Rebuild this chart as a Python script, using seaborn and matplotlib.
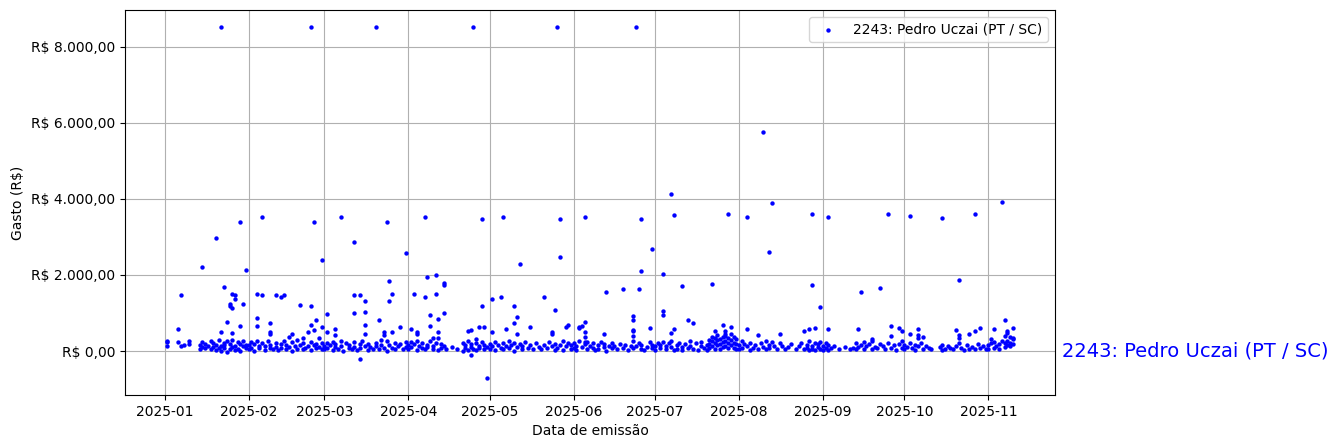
import matplotlib
matplotlib.use("Agg")
import matplotlib.pyplot as plt
import matplotlib.dates as mdates
import matplotlib.transforms as mtransforms
from matplotlib.ticker import FuncFormatter
import seaborn as sns
import pandas as pd

LABEL = "2243: Pedro Uczai (PT / SC)"
YEAR = 2025

# (day of month, value in R$) -- dense band near zero
jan_band = [(2,264),(2,229),(2,132),(6,229),(7,141),(8,167),(10,273),(10,185),(14,170),(14,60),(15,110),(15,230),(16,80),(16,190),(17,140),(18,40),(18,250),(19,100),(19,210),(20,30),(20,160),(21,70),(21,280),(22,120),(22,5),(23,200),(23,90),(23,150),(24,-20),(24,260),(25,50),(25,180),(26,110),(26,300),(27,20),(27,140),(28,230),(28,60),(29,190),(29,10),(30,120),(30,270),(31,80),(31,170)]
feb_band = [(1,150),(1,40),(2,230),(2,90),(3,10),(3,180),(4,260),(5,70),(5,140),(6,200),(7,30),(7,120),(8,250),(9,80),(9,170),(10,60),(11,220),(11,110),(12,20),(13,190),(13,90),(14,270),(15,50),(15,150),(16,100),(17,230),(17,10),(18,130),(19,60),(19,280),(20,170),(21,40),(21,210),(22,90),(23,120),(24,30),(24,240),(25,160),(26,70),(26,190),(27,110),(28,50),(28,220)]
mar_band = [(1,120),(1,40),(2,200),(2,80),(3,160),(4,20),(4,240),(5,100),(5,180),(6,60),(7,270),(7,130),(8,10),(9,210),(10,90),(10,160),(11,50),(12,230),(12,110),(13,30),(14,190),(14,70),(15,250),(16,140),(17,20),(17,180),(18,100),(19,60),(20,220),(20,130),(21,40),(22,300),(22,170),(23,80),(24,250),(24,10),(25,150),(26,90),(27,200),(27,40),(28,120),(29,180),(30,60),(31,230),(31,100)]
apr_band = [(1,150),(1,60),(2,230),(2,100),(3,180),(4,20),(4,260),(5,130),(6,80),(6,200),(7,40),(8,170),(8,110),(9,250),(10,60),(10,140),(11,200),(12,30),(13,180),(13,90),(14,120),(15,40),(17,100),(19,60),(21,220),(21,10),(22,150),(22,80),(23,250),(23,30),(24,180),(24,100),(25,60),(26,200),(26,20),(27,140),(27,90),(28,230),(29,50),(29,170),(30,110)]
may_band = [(1,180),(1,60),(2,120),(3,240),(3,20),(4,150),(5,90),(6,200),(6,40),(7,130),(8,270),(8,70),(9,160),(10,10),(10,220),(11,100),(12,180),(13,50),(13,130),(14,240),(15,80),(16,150),(17,60),(18,200),(19,110),(20,40),(21,170),(22,90),(23,230),(24,130),(25,20),(25,190),(26,70),(27,150),(28,250),(28,30),(29,120),(30,200),(31,60),(31,160)]
jun_band = [(1,200),(1,70),(2,140),(2,20),(3,250),(4,110),(5,180),(6,50),(6,230),(7,120),(8,90),(8,200),(9,30),(10,160),(10,60),(11,240),(12,100),(12,180),(13,10),(14,140),(15,210),(15,70),(16,120),(17,40),(18,180),(19,90),(20,160),(21,30),(22,120),(23,250),(23,80),(24,140),(25,200),(26,60),(26,170),(27,30),(28,110),(29,240),(30,90),(30,150)]
jul_band = [(1,120),(1,30),(2,200),(3,80),(3,160),(4,240),(5,50),(5,140),(6,200),(7,100),(7,260),(8,30),(9,170),(9,60),(10,220),(11,110),(11,20),(12,180),(13,90),(14,250),(14,140),(15,60),(16,200),(17,30),(18,120),(18,240),(19,80),(20,160),(20,20),(21,300),(21,190),(21,70),(22,380),(22,250),(22,120),(23,340),(23,200),(23,60),(24,420),(24,280),(24,150),(25,310),(25,180),(25,50),(26,360),(26,230),(26,100),(27,390),(27,260),(27,120),(28,330),(28,200),(28,70),(29,440),(29,290),(29,150),(30,370),(30,210),(30,90),(31,310),(31,180),(31,40)]
aug_band = [(1,150),(1,40),(2,260),(2,90),(3,180),(4,120),(5,30),(5,210),(6,80),(7,160),(8,60),(9,200),(10,110),(11,250),(11,40),(12,170),(12,90),(13,230),(14,130),(15,60),(16,200),(17,140),(18,50),(19,100),(20,180),(22,60),(23,130),(24,210),(25,40),(26,170),(26,90),(27,250),(27,20),(28,140),(28,60),(29,200),(29,30),(30,110),(30,180),(31,60),(31,230)]
sep_band = [(1,120),(1,30),(2,200),(2,70),(3,160),(3,20),(4,90),(5,140),(7,60),(9,110),(11,40),(12,80),(13,60),(13,200),(14,100),(15,150),(16,50),(16,230),(17,120),(18,180),(19,40),(19,260),(20,100),(21,70),(22,190),(23,130),(24,50),(25,220),(26,90),(27,150),(28,30),(29,180),(30,70),(30,250)]
oct_band = [(1,150),(1,40),(2,100),(3,220),(4,80),(5,160),(5,30),(6,120),(7,200),(8,60),(9,140),(10,90),(11,40),(14,110),(15,30),(15,170),(16,60),(17,140),(18,90),(19,40),(20,120),(21,200),(22,70),(23,30),(24,150),(25,60),(26,100),(27,40),(28,180),(29,80),(30,130),(31,50)]
nov_band = [(1,150),(1,60),(2,200),(3,90),(3,240),(4,130),(5,40),(5,180),(6,260),(7,100),(7,220),(8,150),(8,270),(9,200),(9,120),(10,330),(10,180)]

# larger expenses
jan_high = [(6,581),(7,1471),(15,2211),(20,2978),(22,8500),(22,493),(23,1683),(24,758),(25,1233),(25,1189),(26,1136),(26,467),(26,1498),(27,1462),(27,1374),(29,3400),(29,661),(30,1233),(31,2140)]
feb_high = [(4,1498),(4,872),(4,670),(6,3533),(6,1471),(9,731),(9,511),(9,449),(11,1471),(13,1427),(14,1480),(16,361),(17,449),(20,1207),(21,335),(23,511),(24,8500),(24,1180),(24,678),(25,3400),(25,546),(26,810),(28,2396),(28,634),(27,335)]
mar_high = [(2,969),(2,493),(5,581),(5,414),(7,3533),(12,2872),(12,1480),(12,995),(14,1462),(14,-211),(16,1313),(16,1022),(16,678),(16,440),(20,8500),(21,810),(23,511),(23,414),(24,3400),(25,1841),(25,1321),(26,493),(26,1498),(29,625),(31,2581)]
apr_high = [(2,573),(3,1498),(4,449),(4,493),(7,3533),(7,1418),(8,1947),(9,943),(9,661),(10,335),(11,2000),(11,1489),(12,335),(12,837),(12,493),(14,1797),(14,1727),(14,995),(23,520),(24,546),(24,-115),(25,8500),(26,308),(27,625),(28,3480),(28,1180),(29,625),(30,-696)]
may_high = [(2,1365),(2,493),(5,1418),(6,3533),(7,573),(10,1180),(10,731),(11,890),(11,440),(12,2291),(16,625),(21,1418),(24,511),(24,458),(25,1083),(26,8500),(27,3480),(27,2476),(29,625),(30,678)]
jun_high = [(3,599),(3,634),(4,661),(5,3533),(5,775),(5,493),(5,361),(5,238),(12,440),(13,1550),(19,1630),(23,916),(23,819),(23,555),(23,529),(23,387),(24,8500),(25,1630),(26,3480),(26,2106),(29,599),(30,2687)]
jul_high = [(4,2026),(4,1048),(4,943),(7,467),(7,4114),(8,3586),(8,573),(11,1709),(13,810),(15,731),(22,1762),(23,529),(26,678),(27,529),(27,458),(28,3612),(29,634)]
aug_high = [(4,3533),(4,573),(8,414),(10,5750),(12,2608),(13,3876),(16,440),(25,520),(27,573),(28,3612),(28,1735),(29,599),(31,1154)]
sep_high = [(3,3533),(3,573),(14,573),(15,1550),(19,308),(22,1657),(25,3612),(26,661),(26,396),(29,608),(30,529)]
oct_high = [(3,3559),(3,449),(6,581),(6,423),(6,344),(8,361),(15,3506),(20,546),(21,1868),(21,423),(21,344),(25,440),(27,3612),(27,520),(29,599)]
nov_high = [(2,317),(3,573),(6,3903),(7,810),(7,387),(8,484),(8,520),(9,361),(10,599),(10,308)]

months = [
    (1, jan_band + jan_high), (2, feb_band + feb_high), (3, mar_band + mar_high),
    (4, apr_band + apr_high), (5, may_band + may_high), (6, jun_band + jun_high),
    (7, jul_band + jul_high), (8, aug_band + aug_high), (9, sep_band + sep_high),
    (10, oct_band + oct_high), (11, nov_band + nov_high),
]

rows = []
for m, pairs in months:
    for d, v in pairs:
        rows.append({"data": pd.Timestamp(YEAR, m, d), "valor": v})
df = pd.DataFrame(rows)

fig = plt.figure(figsize=(13.38, 4.48), dpi=100)
ax = fig.add_axes([0.0934, 0.1183, 0.6951, 0.8594])

sns.scatterplot(data=df, x="data", y="valor", ax=ax, color="blue", s=10,
                linewidth=0, label=LABEL, zorder=3)

ax.grid(True, color="#b0b0b0", linewidth=0.8, zorder=0)
ax.set_axisbelow(True)

ax.xaxis.set_major_locator(mdates.MonthLocator())
ax.xaxis.set_major_formatter(mdates.DateFormatter("%Y-%m"))

def brl(v, pos):
    s = f"{v:,.2f}".replace(",", "X").replace(".", ",").replace("X", ".")
    return f"R$ {s}"

ax.yaxis.set_major_formatter(FuncFormatter(brl))
ax.set_xlabel("Data de emissão")
ax.set_ylabel("Gasto (R$)")
ax.legend(loc="upper right")

trans = mtransforms.blended_transform_factory(ax.transAxes, ax.transData)
ax.text(1.008, 0, LABEL, transform=trans, color="blue", fontsize=14,
        va="center", ha="left", clip_on=False)

fig.savefig("out.png", dpi=100)
